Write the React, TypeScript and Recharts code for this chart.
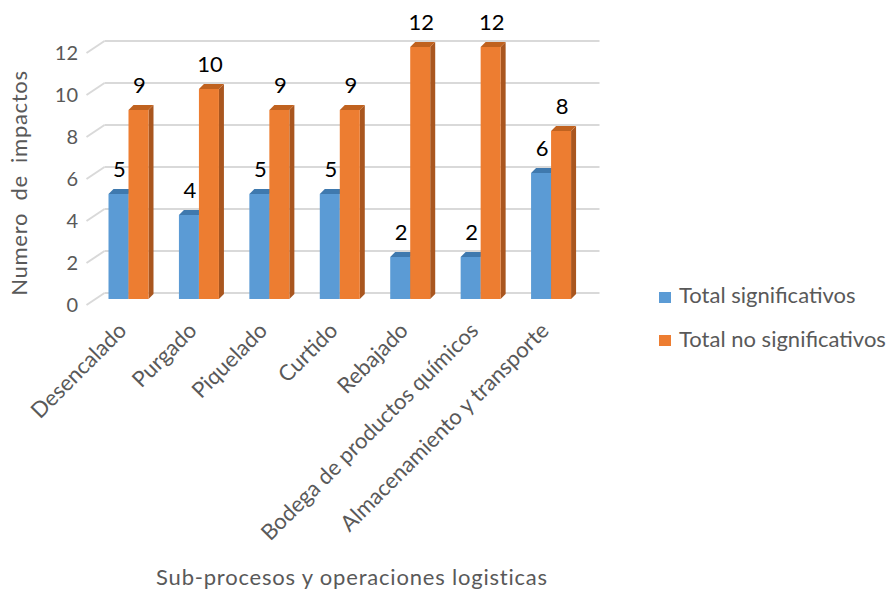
import React from 'react';
import { BarChart, Bar, XAxis, YAxis, CartesianGrid, LabelList, Legend } from 'recharts';

const categories = [
  'Desencalado',
  'Purgado',
  'Piquelado',
  'Curtido',
  'Rebajado',
  'Bodega de productos químicos',
  'Almacenamiento y transporte',
];
const significativos = [5, 4, 5, 5, 2, 2, 6];
const noSignificativos = [9, 10, 9, 9, 12, 12, 8];
const yTicks = [0, 2, 4, 6, 8, 10, 12];
const seriesNames = ['Total significativos', 'Total no significativos'];
const xTitle = 'Sub-procesos y operaciones logisticas';
const yTitle = 'Numero de impactos';

const data = categories.map((c, i) => ({
  name: c,
  sig: significativos[i],
  nosig: noSignificativos[i],
}));

const FONT = 'Lato, "Open Sans", sans-serif';
const TEXT = '#595959';
const BLUE = '#5B9BD5';
const ORANGE = '#ED7D31';
const LIFT = 6;
const D = 5;

const makeShape = (front: string, side: string, top: string) => (props: any) => {
  const { x, y, width, height } = props;
  if (width == null || height == null) return <g />;
  const fy = y - LIFT;
  const h = height;
  return (
    <g>
      <polygon
        points={`${x + width},${fy} ${x + width + D},${fy - D} ${x + width + D},${fy + h - D} ${x + width},${fy + h}`}
        fill={side}
      />
      <polygon
        points={`${x},${fy} ${x + D},${fy - D} ${x + width + D},${fy - D} ${x + width},${fy}`}
        fill={top}
      />
      <rect x={x} y={fy} width={width} height={h} fill={front} />
    </g>
  );
};

const blueShape = makeShape(BLUE, '#41719C', '#3F79AE');
const orangeShape = makeShape(ORANGE, '#A9561F', '#C0621F');

const gridLine = (props: any) => {
  const { x1, x2, y1, index } = props;
  return (
    <g key={`gl-${index}-${y1}`}>
      <line x1={x1 - 7} y1={y1} x2={x1 + 11} y2={y1 - 12} stroke="#D9D9D9" strokeWidth={2} />
      <line x1={x1 + 11} y1={y1 - 12} x2={x2 + 13} y2={y1 - 12} stroke="#D9D9D9" strokeWidth={2} />
    </g>
  );
};

const XTick = (props: any) => {
  const { x, y, payload } = props;
  const px = x - 1;
  return (
    <text
      x={px}
      y={y}
      transform={`rotate(-45, ${px}, ${y})`}
      textAnchor="end"
      fill={TEXT}
      fontSize={22}
      fontFamily={FONT}
    >
      {payload.value}
    </text>
  );
};

const YTick = (props: any) => {
  const { y, payload } = props;
  return (
    <text x={78} y={y + 7} textAnchor="end" fill={TEXT} fontSize={20} fontFamily={FONT}>
      {payload.value}
    </text>
  );
};

const valueLabel = (props: any) => {
  const { x, y, width, value } = props;
  return (
    <text
      x={x + width / 2 + 1}
      y={y - LIFT - 17}
      textAnchor="middle"
      fill="#000000"
      fontSize={22}
      fontFamily={FONT}
    >
      {value}
    </text>
  );
};

const XTitle = () => (
  <text x={352} y={585} textAnchor="middle" fill={TEXT} fontSize={22} fontFamily={FONT} letterSpacing={0.8}>
    {xTitle}
  </text>
);

const YTitle = () => (
  <text
    x={27}
    y={183}
    transform="rotate(-90, 27, 183)"
    textAnchor="middle"
    fill={TEXT}
    fontSize={22}
    fontFamily={FONT}
    letterSpacing={0.7}
    wordSpacing={6}
  >
    {yTitle}
  </text>
);

const LegendContent = () => (
  <svg width={251} height={80} style={{ display: 'block' }}>
    {seriesNames.map((n, i) => (
      <g key={n}>
        <rect x={19} y={12 + i * 43} width={12} height={11} fill={i === 0 ? BLUE : ORANGE} />
        <text x={39} y={23 + i * 44} fill={TEXT} fontSize={22} fontFamily={FONT}>
          {n}
        </text>
      </g>
    ))}
  </svg>
);

export default function App() {
  return (
    <div style={{ position: 'absolute', left: 0, top: 0, width: 891, height: 592, background: '#fff' }}>
      <BarChart
        width={891}
        height={592}
        data={data}
        margin={{ top: 53, right: 304.5, bottom: 87, left: 0 }}
        barGap={0}
        barCategoryGap={15}
      >
        <CartesianGrid vertical={false} horizontal={gridLine} />
        <XAxis
          dataKey="name"
          axisLine={false}
          tickLine={false}
          height={200}
          interval={0}
          tick={<XTick />}
          tickMargin={21}
          label={<XTitle />}
        />
        <YAxis
          domain={[0, 12]}
          ticks={yTicks}
          axisLine={false}
          tickLine={false}
          width={93.5}
          tick={<YTick />}
          label={<YTitle />}
        />
        <Legend
          layout="vertical"
          align="center"
          verticalAlign="middle"
          wrapperStyle={{ position: 'absolute', left: 640, top: 280, width: 251 }}
          content={<LegendContent />}
        />
        <Bar dataKey="sig" name={seriesNames[0]} fill={BLUE} barSize={20} shape={blueShape} isAnimationActive={false}>
          <LabelList dataKey="sig" content={valueLabel} />
        </Bar>
        <Bar dataKey="nosig" name={seriesNames[1]} fill={ORANGE} barSize={20} shape={orangeShape} isAnimationActive={false}>
          <LabelList dataKey="nosig" content={valueLabel} />
        </Bar>
      </BarChart>
    </div>
  );
}
